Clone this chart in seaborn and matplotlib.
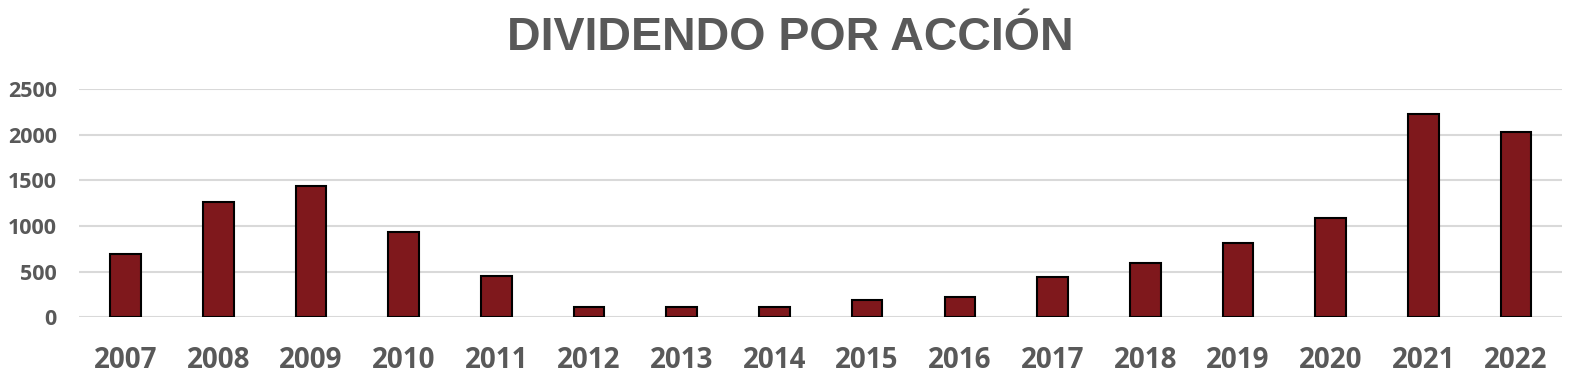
import pandas as pd
import seaborn as sns
import matplotlib.pyplot as plt

anios = ['2007', '2008', '2009', '2010', '2011', '2012', '2013', '2014',
         '2015', '2016', '2017', '2018', '2019', '2020', '2021', '2022']
dividendo = [698, 1266, 1443, 936, 451, 114, 114, 114,
             187, 220, 440, 595, 815, 1094, 2229, 2037]
ticks_y = [0, 500, 1000, 1500, 2000, 2500]

df = pd.DataFrame({'Anio': anios, 'Dividendo': dividendo})

sns.set_style('white')
plt.rcParams['font.family'] = ['Open Sans', 'DejaVu Sans']

fig, ax = plt.subplots(figsize=(15.83, 3.8), dpi=100)
fig.subplots_adjust(left=0.05, right=0.987, top=0.765, bottom=0.165)

sns.barplot(data=df, x='Anio', y='Dividendo', color='#7f181c', saturation=1,
            width=0.33, edgecolor='black', linewidth=1.5, ax=ax, zorder=3)

ax.set_ylim(0, 2500)
ax.set_yticks(ticks_y)
ax.set_xlim(-0.5, len(anios) - 0.5)
ax.yaxis.grid(True, color='#d9d9d9', linewidth=1.5, zorder=0)
ax.set_axisbelow(True)
for s in ax.spines.values():
    s.set_visible(False)
ax.set_xlabel('')
ax.set_ylabel('')
ax.tick_params(axis='x', labelsize=20, labelcolor='#595959', length=0, pad=21)
ax.tick_params(axis='y', labelsize=15.5, labelcolor='#595959', length=0, pad=16)
for lbl in ax.get_xticklabels() + ax.get_yticklabels():
    lbl.set_fontweight('bold')

fig.text(0.499, 0.9, 'DIVIDENDO POR ACCIÓN', ha='center', va='center',
         fontsize=33.5, fontweight='bold', color='#595959',
         family=['Liberation Sans', 'DejaVu Sans'])

plt.savefig('out.png', dpi=100)
